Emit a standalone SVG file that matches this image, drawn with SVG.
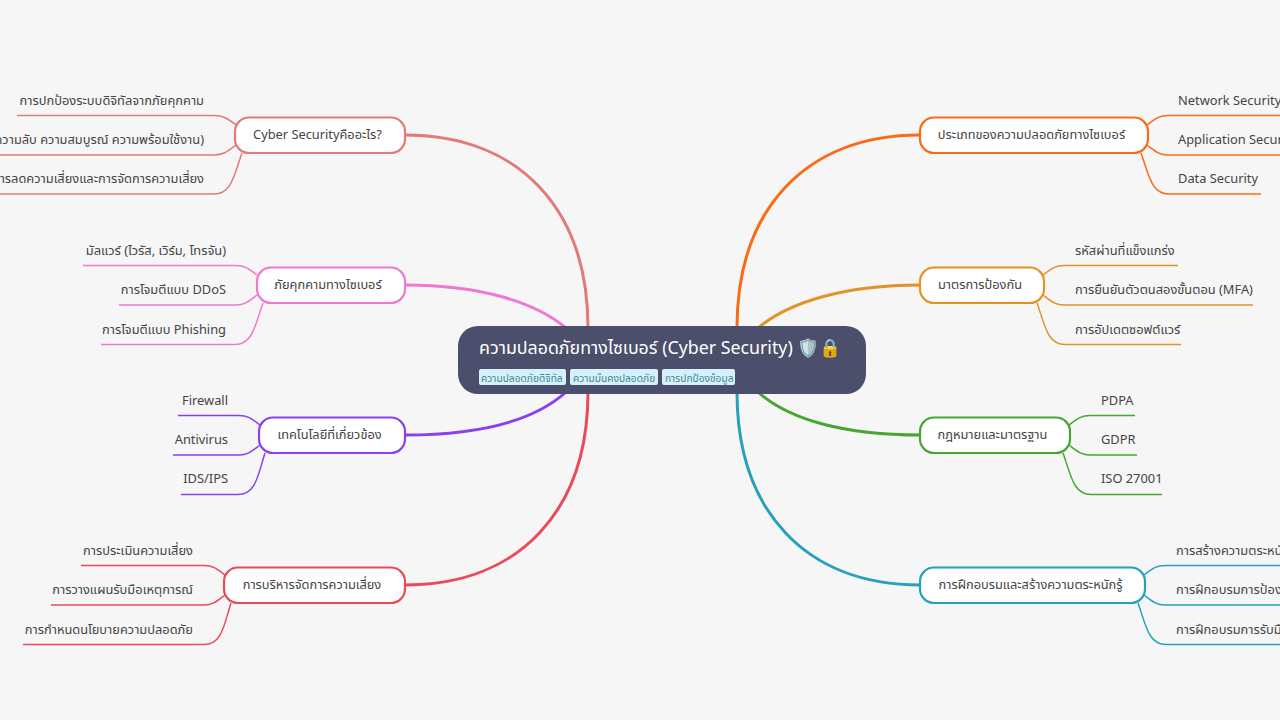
<svg xmlns="http://www.w3.org/2000/svg" width="1280" height="720" viewBox="0 0 1280 720">
<style>
text{font-family:"Noto Sans","Noto Sans Thai","DejaVu Sans",sans-serif;fill:#444}
.main{fill:none;stroke-width:3;stroke-linecap:round}
.sub{fill:none;stroke-width:1.5}
.box{fill:#fff;stroke-width:2.2}
.lbl{font-size:12.8px;text-anchor:middle}
.leaf{font-size:12.850px}
.e{text-anchor:end}
.tag{fill:#d6f1f9;stroke:none}
.tagt{font-size:10.200px;fill:#3d8799}
.c1{stroke:#e27a7a}.c2{stroke:#ee78d2}.c3{stroke:#8a3ff0}.c4{stroke:#ea4a5c}
.c5{stroke:#fb6a14}.c6{stroke:#e29326}.c7{stroke:#45a632}.c8{stroke:#26a0bc}
</style>
<rect width="1280" height="720" fill="#f6f6f6"/>
<g id="connectors">
<path class="main c1" d="M588 328C588 210 520 135 405 135"/>
<path class="main c2" d="M566 328C535 302 480 285 405 285"/>
<path class="main c3" d="M566 392C535 420 480 435 405 435"/>
<path class="main c4" d="M588 392C588 510 520 585 405 585"/>
<path class="main c5" d="M737 328C737 210 805 135 920 135"/>
<path class="main c6" d="M758 328C789 302 845 285 920 285"/>
<path class="main c7" d="M758 392C789 420 845 435 920 435"/>
<path class="main c8" d="M737 392C737 510 805 585 920 585"/>
<path class="sub c1" d="M236 125C228 119 224 115.500 214 115.500L17 115.500M236 145C228 151 224 155 214 155L0 155M242 153C234 175 232 194 214 194L0 194"/>
<path class="sub c2" d="M257 275C249 269 245 265.500 236 265.500L83 265.500M257 295C249 301 245 305 236 305L119 305M263 303C255 325 253 344.500 235 344.500L101 344.500"/>
<path class="sub c3" d="M260 425C252 419 248 415.500 239 415.500L178 415.500M260 445C252 451 248 455 239 455L173 455M265 453C258 475 256 494.500 238 494.500L181 494.500"/>
<path class="sub c4" d="M225 575C217 569 213 565.500 204 565.500L81 565.500M225 595C217 601 213 605 204 605L51 605M231 603C224 625 222 644.500 204 644.500L23 644.500"/>
<path class="sub c5" d="M1147 125C1155 119 1159 115.500 1168 115.500L1280 115.500M1147 145C1155 151 1159 155 1168 155L1280 155M1141 153C1149 175 1151 194 1169 194L1261 194"/>
<path class="sub c6" d="M1043 275C1051 269 1055 265.500 1064 265.500L1178 265.500M1043 295C1051 301 1055 305 1064 305L1253 305M1037 303C1045 325 1047 344.500 1065 344.500L1181 344.500"/>
<path class="sub c7" d="M1069 425C1077 419 1081 415.500 1090 415.500L1135 415.500M1069 445C1077 451 1081 455 1090 455L1137 455M1063 453C1071 475 1073 494.500 1091 494.500L1162 494.500"/>
<path class="sub c8" d="M1144 575C1152 569 1156 565.500 1165 565.500L1280 565.500M1144 595C1152 601 1156 605 1165 605L1280 605M1138 603C1146 625 1148 644.500 1166 644.500L1280 644.500"/>
</g>
<g id="root">
<rect x="458" y="326" width="408" height="68" rx="20" fill="#4c4f6b"/>
<text x="479" y="354" font-size="17.800" style="fill:#fff">ความปลอดภัยทางไซเบอร์ (Cyber Security) 🛡️🔒</text>
<rect class="tag" x="479" y="369" width="87" height="16" rx="2"/><text class="tagt" x="481" y="382">ความปลอดภัยดิจิทัล</text>
<rect class="tag" x="570" y="369" width="88" height="16" rx="2"/><text class="tagt" x="573" y="382">ความมั่นคงปลอดภัย</text>
<rect class="tag" x="662" y="369" width="73" height="16" rx="2"/><text class="tagt" x="665" y="382">การปกป้องข้อมูล</text>
</g>
<g id="n1"><rect class="box c1" x="235" y="117.500" width="170" height="35.500" rx="14"/><text class="lbl" x="317.500" y="139">Cyber Securityคืออะไร?</text></g>
<g id="n1a"><text class="leaf e" x="204" y="105">การปกป้องระบบดิจิทัลจากภัยคุกคาม</text></g>
<g id="n1b"><text class="leaf e" x="204" y="144">(ความลับ ความสมบูรณ์ ความพร้อมใช้งาน)</text></g>
<g id="n1c"><text class="leaf e" x="204" y="183">การลดความเสี่ยงและการจัดการความเสี่ยง</text></g>
<g id="n2"><rect class="box c2" x="257" y="267.500" width="148" height="35.500" rx="14"/><text class="lbl" x="328" y="289">ภัยคุกคามทางไซเบอร์</text></g>
<g id="n2a"><text class="leaf e" x="226" y="255">มัลแวร์ (ไวรัส, เวิร์ม, โทรจัน)</text></g>
<g id="n2b"><text class="leaf e" x="226" y="294">การโจมตีแบบ DDoS</text></g>
<g id="n2c"><text class="leaf e" x="226" y="334">การโจมตีแบบ Phishing</text></g>
<g id="n3"><rect class="box c3" x="259" y="417.500" width="146" height="35.500" rx="14"/><text class="lbl" x="329.500" y="439">เทคโนโลยีที่เกี่ยวข้อง</text></g>
<g id="n3a"><text class="leaf e" x="228" y="405">Firewall</text></g>
<g id="n3b"><text class="leaf e" x="228" y="444">Antivirus</text></g>
<g id="n3c"><text class="leaf e" x="228" y="483">IDS/IPS</text></g>
<g id="n4"><rect class="box c4" x="224" y="567.500" width="181" height="35.500" rx="14"/><text class="lbl" x="312" y="589">การบริหารจัดการความเสี่ยง</text></g>
<g id="n4a"><text class="leaf e" x="193" y="555">การประเมินความเสี่ยง</text></g>
<g id="n4b"><text class="leaf e" x="193" y="594">การวางแผนรับมือเหตุการณ์</text></g>
<g id="n4c"><text class="leaf e" x="193" y="634">การกำหนดนโยบายความปลอดภัย</text></g>
<g id="n5"><rect class="box c5" x="920" y="117.500" width="228" height="35.500" rx="14"/><text class="lbl" x="1031.500" y="139">ประเภทของความปลอดภัยทางไซเบอร์</text></g>
<g id="n5a"><text class="leaf" x="1178" y="105">Network Security</text></g>
<g id="n5b"><text class="leaf" x="1178" y="144">Application Security</text></g>
<g id="n5c"><text class="leaf" x="1178" y="183">Data Security</text></g>
<g id="n6"><rect class="box c6" x="920" y="267.500" width="124" height="35.500" rx="14"/><text class="lbl" x="980" y="289">มาตรการป้องกัน</text></g>
<g id="n6a"><text class="leaf" x="1075" y="255">รหัสผ่านที่แข็งแกร่ง</text></g>
<g id="n6b"><text class="leaf" x="1075" y="294">การยืนยันตัวตนสองขั้นตอน (MFA)</text></g>
<g id="n6c"><text class="leaf" x="1075" y="334">การอัปเดตซอฟต์แวร์</text></g>
<g id="n7"><rect class="box c7" x="920" y="417.500" width="150" height="35.500" rx="14"/><text class="lbl" x="992.500" y="439">กฎหมายและมาตรฐาน</text></g>
<g id="n7a"><text class="leaf" x="1101" y="405">PDPA</text></g>
<g id="n7b"><text class="leaf" x="1101" y="444">GDPR</text></g>
<g id="n7c"><text class="leaf" x="1101" y="483">ISO 27001</text></g>
<g id="n8"><rect class="box c8" x="920" y="567.500" width="225" height="35.500" rx="14"/><text class="lbl" x="1030.500" y="589">การฝึกอบรมและสร้างความตระหนักรู้</text></g>
<g id="n8a"><text class="leaf" x="1176" y="555">การสร้างความตระหนักรู้</text></g>
<g id="n8b"><text class="leaf" x="1176" y="594">การฝึกอบรมการป้องกัน</text></g>
<g id="n8c"><text class="leaf" x="1176" y="634">การฝึกอบรมการรับมือ</text></g>
</svg>
